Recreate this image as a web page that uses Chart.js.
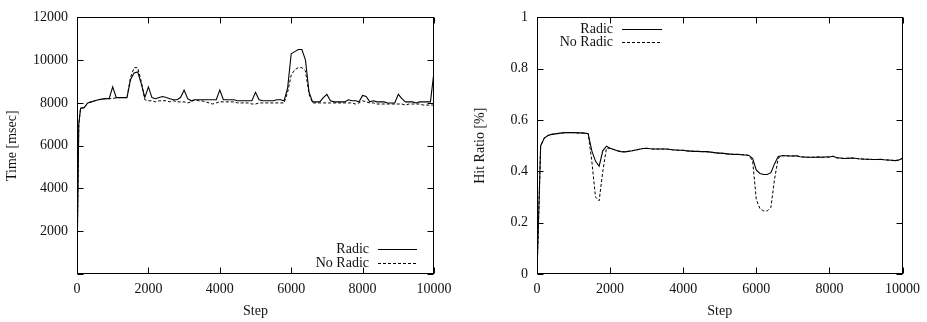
<!DOCTYPE html>
<html>
<head>
<meta charset="utf-8">
<script src="https://cdn.jsdelivr.net/npm/chart.js@4.4.1/dist/chart.umd.min.js"></script>
<style>
  html,body{margin:0;padding:0;background:#fff;}
  #wrap{position:relative;width:927px;height:322px;}
  canvas{position:absolute;top:0;}
  #timeChart{left:0;}
  #hitChart{left:465px;}
</style>
</head>
<body>
<div id="wrap">
  <canvas id="timeChart" width="465" height="322"></canvas>
  <canvas id="hitChart" width="462" height="322"></canvas>
</div>
<script>
// x positions (Step) shared by both plots
const steps = [0,50,100,200,300,400,500,600,700,800,900,
  1000,1100,1200,1300,1400,1500,1600,1700,1800,1900,
  2000,2100,2200,2300,2400,2500,2600,2700,2800,2900,
  3000,3100,3200,3300,3400,3500,3600,3700,3800,3900,
  4000,4100,4200,4300,4400,4500,4600,4700,4800,4900,
  5000,5100,5200,5300,5400,5500,5600,5700,5800,5900,
  6000,6100,6200,6300,6400,6500,6600,6700,6800,6900,
  7000,7100,7200,7300,7400,7500,7600,7700,7800,7900,
  8000,8100,8200,8300,8400,8500,8600,8700,8800,8900,
  9000,9100,9200,9300,9400,9500,9600,9700,9800,9900,
  10000];

// left plot: Time [msec]
const timeRadic = [300,7000,7750,7780,8000,8050,8100,8150,8180,8200,8200,
  8750,8250,8250,8250,8250,9100,9400,9450,8900,8250,
  8750,8250,8200,8250,8300,8250,8200,8150,8150,8250,
  8600,8200,8100,8150,8150,8150,8150,8150,8150,8150,
  8600,8150,8150,8150,8150,8100,8100,8100,8100,8100,
  8500,8150,8100,8100,8100,8100,8150,8150,8100,8700,
  10300,10400,10500,10500,10000,8500,8050,8050,8050,8250,
  8400,8100,8050,8050,8050,8050,8150,8100,8100,8050,
  8350,8300,8050,8100,8050,8050,8050,8000,8000,8000,
  8400,8200,8050,8050,8050,8000,8050,8050,8050,8050,
  9450];
const timeNoRadic = [300,7000,7750,7780,8000,8050,8100,8150,8180,8200,8200,
  8200,8250,8250,8250,8250,9200,9650,9650,9000,8150,
  8100,8100,8050,8100,8100,8100,8050,8100,8050,8050,
  8050,8000,8050,8150,8100,8100,8050,8000,7950,8000,
  8050,8050,8050,8050,8050,8000,8000,8000,8000,7950,
  7950,8000,8000,8000,8000,8000,8000,8000,8000,8500,
  9300,9550,9650,9650,9500,8400,8000,8000,8000,8000,
  8000,8000,8000,8000,8000,8000,8000,8000,7950,8000,
  8100,8050,8000,8000,7950,7950,7950,7950,7950,7950,
  7950,7950,7900,7950,7950,7950,7950,7900,7900,7900,
  7900];

// right plot: Hit Ratio [%]
const hitRadic = [0,0.25,0.50,0.53,0.54,0.544,0.546,0.548,0.55,0.551,0.551,
  0.551,0.55,0.55,0.549,0.547,0.48,0.44,0.42,0.48,0.498,
  0.49,0.485,0.48,0.477,0.476,0.478,0.48,0.483,0.486,0.489,
  0.49,0.488,0.487,0.487,0.487,0.487,0.486,0.484,0.483,0.482,
  0.482,0.48,0.479,0.478,0.478,0.477,0.477,0.476,0.474,0.472,
  0.471,0.47,0.468,0.467,0.466,0.466,0.465,0.464,0.462,0.45,
  0.405,0.392,0.388,0.388,0.395,0.43,0.458,0.461,0.461,0.46,
  0.46,0.461,0.457,0.456,0.455,0.455,0.455,0.456,0.455,0.456,
  0.456,0.459,0.453,0.452,0.45,0.451,0.452,0.451,0.449,0.448,
  0.447,0.447,0.446,0.446,0.447,0.445,0.444,0.443,0.442,0.444,
  0.451];
const hitNoRadic = [0,0.25,0.50,0.53,0.54,0.544,0.546,0.548,0.55,0.551,0.551,
  0.551,0.55,0.55,0.549,0.547,0.44,0.30,0.285,0.40,0.49,
  0.49,0.485,0.48,0.477,0.476,0.478,0.48,0.483,0.486,0.489,
  0.49,0.488,0.487,0.487,0.487,0.487,0.486,0.484,0.483,0.482,
  0.482,0.48,0.479,0.478,0.478,0.477,0.477,0.476,0.474,0.472,
  0.471,0.47,0.468,0.467,0.466,0.466,0.465,0.464,0.462,0.44,
  0.29,0.255,0.246,0.246,0.26,0.37,0.452,0.461,0.461,0.46,
  0.46,0.461,0.457,0.456,0.455,0.455,0.455,0.456,0.455,0.456,
  0.456,0.459,0.453,0.452,0.45,0.451,0.452,0.451,0.449,0.448,
  0.447,0.447,0.446,0.446,0.447,0.445,0.444,0.443,0.442,0.444,
  0.451];

const seriesNames = ['Radic', 'No Radic'];

const FONT = {family:'"Liberation Serif", "Times New Roman", serif', size:14};
const INK = '#111';

// gnuplot-ish box with inward mirrored ticks
const gnuFrame = {
  id:'gnuFrame',
  afterDraw(chart, args, opts){
    const {ctx, chartArea:a, scales} = chart;
    const len = opts.len || 6;
    const L = Math.round(a.left)+0.5, R = Math.round(a.right)-0.5, T = Math.round(a.top)+0.5, B = Math.round(a.bottom)-0.5;
    ctx.save();
    ctx.strokeStyle = '#000'; ctx.lineWidth = 1;
    ctx.beginPath();
    scales.x.ticks.forEach(t=>{
      const px = Math.round(scales.x.getPixelForValue(t.value))+0.5;
      ctx.moveTo(px,B); ctx.lineTo(px,B-len);
      ctx.moveTo(px,T); ctx.lineTo(px,T+len);
    });
    scales.y.ticks.forEach(t=>{
      const py = Math.round(scales.y.getPixelForValue(t.value))+0.5;
      ctx.moveTo(L,py); ctx.lineTo(L+len,py);
      ctx.moveTo(R,py); ctx.lineTo(R-len,py);
    });
    ctx.stroke();
    ctx.strokeRect(L,T,R-L,B-T);
    ctx.restore();
  }
};

// key drawn inside the plot like gnuplot does
const gnuKey = {
  id:'gnuKey',
  afterDraw(chart, args, o){
    const {ctx, chartArea:a} = chart;
    const ax = o.side==='right' ? a.right : a.left;
    const ay = o.vert==='bottom' ? a.bottom : a.top;
    ctx.save();
    ctx.font = FONT.size+'px '+FONT.family;
    ctx.fillStyle = INK; ctx.textAlign = 'right'; ctx.textBaseline = 'middle';
    chart.data.datasets.forEach((ds,i)=>{
      const y = ay + o.rowY + i*o.rowH;
      ctx.fillText(ds.label, ax+o.textX, y);
      ctx.strokeStyle = ds.borderColor; ctx.lineWidth = 1;
      ctx.setLineDash(ds.borderDash || []);
      ctx.beginPath();
      ctx.moveTo(ax+o.lineX0, Math.round(y)+0.5); ctx.lineTo(ax+o.lineX1, Math.round(y)+0.5);
      ctx.stroke();
    });
    ctx.restore();
  }
};

function pts(ys){ return steps.map((s,i)=>({x:s, y:ys[i]})); }

function makeChart(id, a, b, y, key, padRight){
  return new Chart(document.getElementById(id), {
    type:'line',
    data:{datasets:[
      {label:seriesNames[0], data:pts(a), borderColor:'#000', borderWidth:1.1, pointRadius:0, tension:0, fill:false},
      {label:seriesNames[1], data:pts(b), borderColor:'#000', borderWidth:1, borderDash:[3,2], pointRadius:0, tension:0, fill:false}
    ]},
    options:{
      responsive:false, animation:false, events:[],
      layout:{padding:{top:10, right:padRight, left:0, bottom:0}},
      plugins:{legend:{display:false}, tooltip:{enabled:false}, gnuFrame:{len:6}, gnuKey:key},
      scales:{
        x:{type:'linear', min:0, max:10000,
          ticks:{stepSize:2000, padding:7, color:INK, font:FONT, maxRotation:0, callback:v=>String(v)},
          grid:{display:false, drawTicks:false}, border:{display:false},
          title:{display:true, text:'Step', color:INK, font:FONT, padding:{top:0, bottom:2}},
          afterFit(s){ s.height = 48; }},
        y:{type:'linear', min:y.min, max:y.max,
          ticks:{stepSize:y.step, padding:9, color:INK, font:FONT,
            callback:v=> (y.hideZero && v===0) ? '' : String(Math.round(v*10)/10)},
          grid:{display:false, drawTicks:false}, border:{display:false},
          title:{display:true, text:y.title, color:INK, font:FONT, padding:{top:y.titlePad, bottom:0}},
          afterFit(s){ s.width = y.width; }}
      }
    },
    plugins:[gnuFrame, gnuKey]
  });
}

makeChart('timeChart', timeRadic, timeNoRadic,
  {min:0, max:12000, step:2000, title:'Time [msec]', width:77, titlePad:4, hideZero:true},
  {side:'right', vert:'bottom', textX:-65, lineX0:-56, lineX1:-17, rowY:-25, rowH:14}, 31);

makeChart('hitChart', hitRadic, hitNoRadic,
  {min:0, max:1, step:0.2, title:'Hit Ratio [%]', width:72, titlePad:7, hideZero:false},
  {side:'left', vert:'top', textX:76, lineX0:85, lineX1:125, rowY:12, rowH:13}, 24);
</script>
</body>
</html>
